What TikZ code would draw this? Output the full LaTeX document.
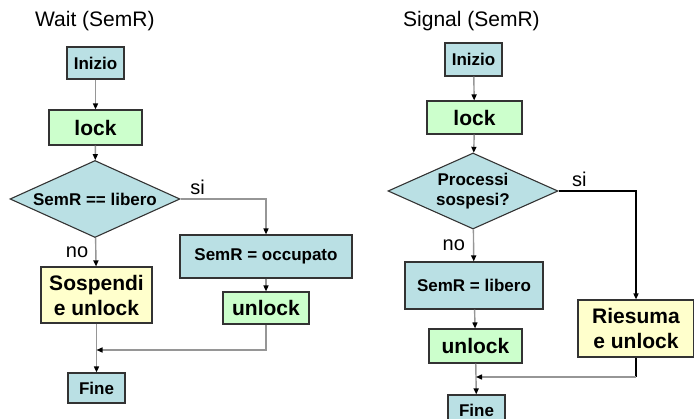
\documentclass[tikz,border=0pt]{standalone}
\usepackage{fontspec}
\setmainfont{Liberation Sans}
\usetikzlibrary{shapes.geometric,arrows.meta}

\definecolor{semblue}{RGB}{186,224,228}
\definecolor{semgreen}{RGB}{204,255,204}
\definecolor{semyellow}{RGB}{255,255,204}
\definecolor{flowgray}{RGB}{150,150,150}

\begin{document}
\begin{tikzpicture}[x=1pt,y=-1pt,
  box/.style={draw=black!80,line width=1.1pt,inner sep=0pt,align=center,font=\bfseries\fontsize{17}{20}\selectfont},
  bigbox/.style={box,font=\bfseries\fontsize{21}{25}\selectfont},
  test/.style={box,diamond,fill=semblue,shape aspect=2.2,minimum width=170pt,minimum height=77pt},
  flow/.style={draw=flowgray,line width=1.4pt,-{Triangle[length=6pt,width=5pt,color=black]}},
  answer/.style={font=\fontsize{20}{24}\selectfont,inner sep=0pt},
  title/.style={font=\fontsize{21}{24}\selectfont,inner sep=0pt,anchor=base west}]
\useasboundingbox (0,0) rectangle (694,419);

% Wait (SemR)
\path (35,27) node[title](waitTitle) {Wait (SemR)};
\path (95.5,63) node[box,fill=semblue,minimum width=57pt,minimum height=32pt](inizioW) {Inizio};
\path (95.5,127.5) node[bigbox,fill=semgreen,minimum width=93pt,minimum height=35pt](lockW) {lock};
\path (95,199) node[test](testW) {SemR == libero};
\path (266,256.5) node[box,fill=semblue,minimum width=172pt,minimum height=43pt](occW) {SemR = occupato};
\path (96.5,295) node[bigbox,fill=semyellow,minimum width=111pt,minimum height=56pt](sospW) {Sospendi\\e unlock};
\path (266,308) node[bigbox,fill=semgreen,minimum width=86pt,minimum height=32pt](unlockW) {unlock};
\path (96.5,388) node[box,fill=semblue,minimum width=57pt,minimum height=30pt](fineW) {Fine};
\coordinate (joinW) at (96.5,350);

\draw[flow] (inizioW) -- (lockW);
\draw[flow] (lockW) -- (testW);
\draw[flow] (testW.east) -| node[answer,pos=0.1,above=4pt]{si} (occW);
\draw[flow] (testW) -- node[answer,left=7pt]{no} (sospW);
\draw[flow] (occW) -- (unlockW);
\draw[flow] (sospW) -- (fineW);
\draw[flow] (unlockW) |- (joinW);

% Signal (SemR)
\path (403,27) node[title](signalTitle) {Signal (SemR)};
\path (473.5,59.5) node[box,fill=semblue,minimum width=57pt,minimum height=33pt](inizioS) {Inizio};
\path (474.5,117.5) node[bigbox,fill=semgreen,minimum width=95pt,minimum height=33pt](lockS) {lock};
\path (473,191) node[test,minimum height=76pt](testS) {Processi\\sospesi?};
\path (474,285.5) node[box,fill=semblue,minimum width=138pt,minimum height=47pt](liberoS) {SemR = libero};
\path (475.5,346) node[bigbox,fill=semgreen,minimum width=93pt,minimum height=34pt](unlockS) {unlock};
\path (636,328.5) node[bigbox,fill=semyellow,minimum width=116pt,minimum height=57pt](riesS) {Riesuma\\e unlock};
\path (476.5,410) node[box,fill=semblue,minimum width=57pt,minimum height=30pt](fineS) {Fine};
\coordinate (cornerS) at (636,377);
\coordinate (joinS) at (476,377);

\draw[flow] (inizioS) -- (lockS);
\draw[flow] (lockS) -- (testS);
\draw[flow,draw=black] (testS.east) -| node[answer,pos=0.135,above=4pt]{si} (riesS);
\draw[flow] (testS) -- node[answer,left=8pt]{no} (liberoS);
\draw[flow] (liberoS) -- (unlockS);
\draw[flow] (unlockS) -- (fineS);
\draw[line width=1.4pt] (riesS) -- (cornerS);
\draw[flow] (cornerS) -- (joinS);

\end{tikzpicture}
\end{document}
